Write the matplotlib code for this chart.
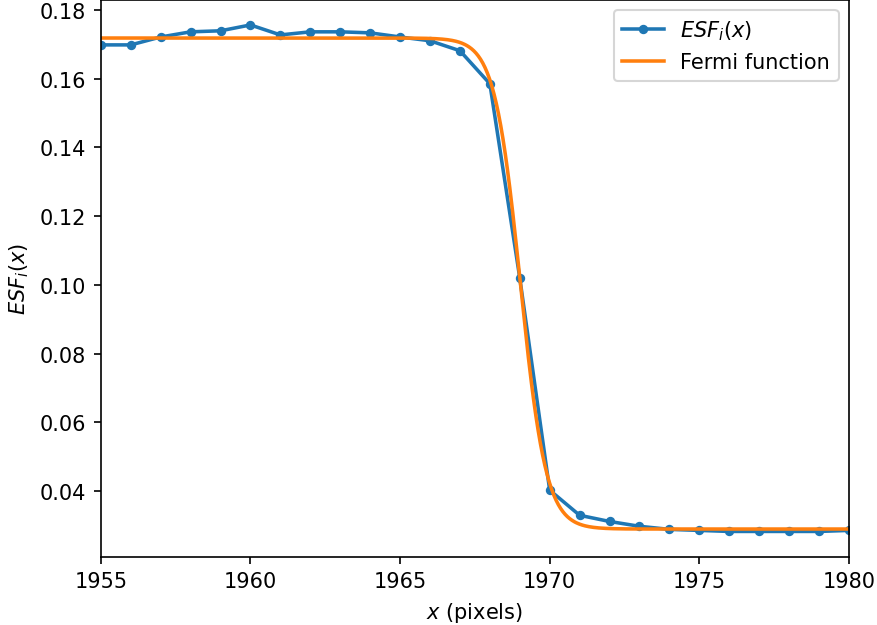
import numpy as np
import matplotlib
matplotlib.use("Agg")
import matplotlib.pyplot as plt

# measured edge spread function samples
x_pix = np.arange(1955, 1981)
esf = [0.1698, 0.1698, 0.1721, 0.1736, 0.1739, 0.1756, 0.1727, 0.1736, 0.1736,
       0.1733, 0.1721, 0.1710, 0.1681, 0.1585, 0.1020, 0.0403, 0.0330, 0.0312,
       0.0298, 0.0289, 0.0286, 0.0283, 0.0283, 0.0283, 0.0283, 0.0286]

# fitted Fermi function parameters
fermi_amp = 0.1428
fermi_offset = 0.0290
fermi_mu = 1969.02
fermi_s = 0.43


def fermi(x, a, b, mu, s):
    return a / (np.exp((x - mu) / s) + 1) + b


xf = np.linspace(1955, 1980, 1000)
yf = fermi(xf, fermi_amp, fermi_offset, fermi_mu, fermi_s)

fig, ax = plt.subplots(figsize=(877 / 150, 626 / 150), dpi=150)
ax.plot(x_pix, esf, '.-', lw=1.7, ms=7, label='$ESF_i(x)$')
ax.plot(xf, yf, lw=1.7, label='Fermi function')
ax.set_xlim(1955, 1980)
ax.set_xlabel('$x$ (pixels)')
ax.set_ylabel('$ESF_i(x)$')
ax.legend(loc='upper right')
fig.subplots_adjust(left=0.115, right=0.968, bottom=0.109, top=0.999)
fig.savefig('out.png', dpi=150)
